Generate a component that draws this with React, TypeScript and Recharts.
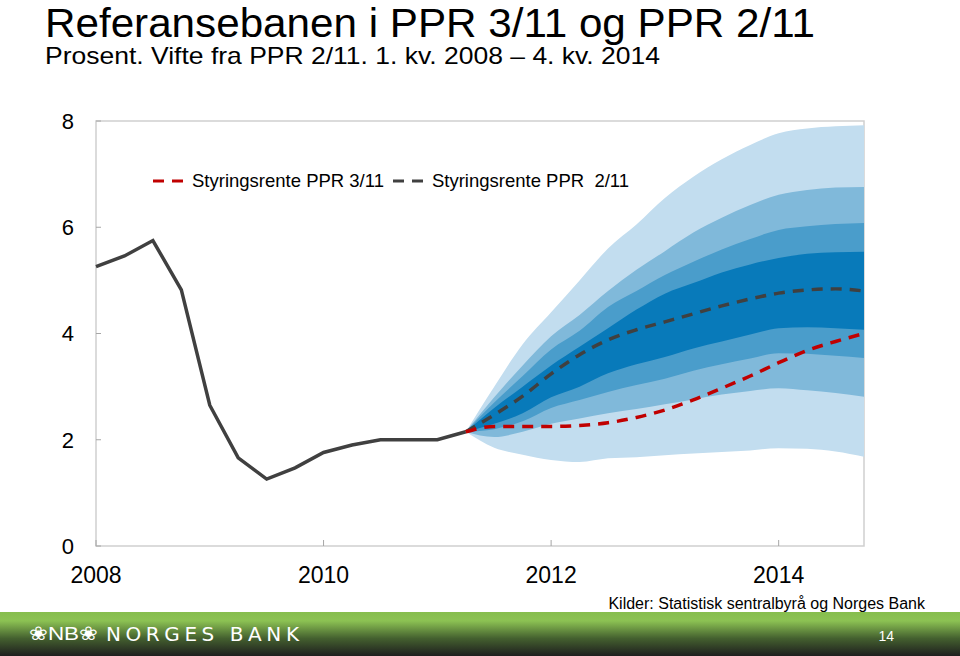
import React from 'react';
import { ComposedChart, Line, Area, XAxis, YAxis, ReferenceArea } from 'recharts';

// kvartal 1. kv. 2008 - 4. kv. 2014
const quarters = Array.from({ length: 28 }, (_, i) => i);
const yearLabels = ['2008', '2010', '2012', '2014'];
const yearTicks = [0, 8, 16, 24];
const yTicks = [0, 2, 4, 6, 8];

// historisk styringsrente (1. kv. 2008 - 2. kv. 2011)
const hist = [5.26, 5.46, 5.75, 4.82, 2.65, 1.66, 1.26, 1.47, 1.76, 1.9, 2.0, 2.0, 2.0, 2.15];

// prognoser fra 2. kv. 2011
const ppr3 = [2.15, 2.25, 2.25, 2.25, 2.27, 2.32, 2.42, 2.56, 2.75, 2.97, 3.2, 3.45, 3.68, 3.85, 4.0];
const ppr2 = [2.15, 2.47, 2.82, 3.24, 3.6, 3.88, 4.07, 4.22, 4.37, 4.52, 4.65, 4.76, 4.82, 4.84, 4.8];

// vifte (90, 70, 50, 30 prosent)
const p90Hi = [2.15, 3.0, 3.8, 4.4, 5.0, 5.6, 6.05, 6.55, 6.95, 7.28, 7.55, 7.77, 7.86, 7.9, 7.92];
const p70Hi = [2.15, 2.8, 3.4, 3.95, 4.35, 4.8, 5.2, 5.55, 5.9, 6.18, 6.42, 6.61, 6.7, 6.75, 6.76];
const p50Hi = [2.15, 2.7, 3.2, 3.7, 4.05, 4.5, 4.8, 5.1, 5.35, 5.58, 5.78, 5.95, 6.02, 6.06, 6.08];
const p30Hi = [2.15, 2.6, 3.0, 3.4, 3.75, 4.1, 4.45, 4.75, 4.95, 5.15, 5.3, 5.42, 5.5, 5.53, 5.54];
const p30Lo = [2.15, 2.3, 2.5, 2.8, 3.0, 3.25, 3.42, 3.56, 3.72, 3.85, 3.98, 4.1, 4.12, 4.1, 4.07];
const p50Lo = [2.15, 2.2, 2.35, 2.6, 2.75, 2.9, 3.03, 3.15, 3.3, 3.42, 3.53, 3.63, 3.62, 3.58, 3.54];
const p70Lo = [2.15, 2.05, 2.15, 2.3, 2.4, 2.5, 2.58, 2.67, 2.76, 2.85, 2.92, 2.97, 2.93, 2.88, 2.81];
const p90Lo = [2.15, 1.85, 1.72, 1.62, 1.58, 1.65, 1.67, 1.71, 1.74, 1.77, 1.8, 1.84, 1.83, 1.78, 1.68];

const START = 13;

const data = quarters.map((i) => {
  const k = i - START;
  const f = (arr: number[]) => (k >= 0 ? arr[k] : null);
  const band = (lo: number[], hi: number[]) => (k >= 0 ? [lo[k], hi[k]] : null);
  return {
    i,
    hist: i <= START ? hist[i] : null,
    ppr3: f(ppr3),
    ppr2: f(ppr2),
    b90: band(p90Lo, p90Hi),
    b70: band(p70Lo, p70Hi),
    b50: band(p50Lo, p50Hi),
    b30: band(p30Lo, p30Hi),
  };
});

const FONT = '"Liberation Sans", Arial, sans-serif';

const legendItems = [
  { label: 'Styringsrente PPR 3/11', color: '#c00000' },
  { label: 'Styringsrente PPR  2/11', color: '#404040' },
];

function ChartLegend() {
  return (
    <div
      style={{
        position: 'absolute', left: 152, top: 170, display: 'flex', alignItems: 'center',
        fontFamily: FONT, fontSize: 18.5, color: '#000', whiteSpace: 'pre', lineHeight: '22px',
      }}
    >
      {legendItems.map((it) => (
        <div key={it.label} style={{ display: 'flex', alignItems: 'center', marginRight: 8 }}>
          <svg width={32} height={8} style={{ marginRight: 8 }}>
            <line x1={1} y1={4} x2={31} y2={4} stroke={it.color} strokeWidth={3} strokeDasharray="11 8" />
          </svg>
          <span>{it.label}</span>
        </div>
      ))}
    </div>
  );
}

export default function App() {
  return (
    <div style={{ position: 'fixed', left: 0, top: 0, width: 960, height: 656, background: '#fff', overflow: 'hidden' }}>
      <ComposedChart
        width={960}
        height={656}
        data={data}
        margin={{ top: 121, right: 0, bottom: 70, left: 0 }}
        style={{ position: 'absolute', left: 0, top: 0 }}
      >
        <XAxis
          dataKey="i"
          type="number"
          domain={[0, 27]}
          ticks={yearTicks}
          tickFormatter={(v: number) => yearLabels[yearTicks.indexOf(v)]}
          height={40}
          axisLine={false}
          tickSize={-6}
          tickMargin={27}
          tickLine={{ stroke: '#a6a6a6' }}
          tick={{ fill: '#000', fontSize: 23, fontFamily: FONT }}
          interval={0}
        />
        <YAxis
          yAxisId="l"
          domain={[0, 8]}
          ticks={yTicks}
          width={96}
          axisLine={false}
          tickSize={-5}
          tickMargin={27}
          tickLine={{ stroke: '#a6a6a6' }}
          tick={{ fill: '#000', fontSize: 22, fontFamily: FONT }}
        />
        <YAxis
          yAxisId="r"
          orientation="right"
          domain={[0, 8]}
          ticks={yTicks}
          width={96}
          axisLine={false}
          tickSize={-5}
          tickMargin={25}
          tickLine={{ stroke: '#a6a6a6' }}
          tick={{ fill: '#000', fontSize: 22, fontFamily: FONT }}
        />
        <ReferenceArea yAxisId="l" x1={0} x2={27} y1={0} y2={8} fill="none" stroke="#d0d0d0" strokeWidth={1.5} />
        <Area yAxisId="l" type="monotone" dataKey="b90" stroke="none" fill="#c2ddef" fillOpacity={1} isAnimationActive={false} />
        <Area yAxisId="l" type="monotone" dataKey="b70" stroke="none" fill="#80b9da" fillOpacity={1} isAnimationActive={false} />
        <Area yAxisId="l" type="monotone" dataKey="b50" stroke="none" fill="#4a9dcb" fillOpacity={1} isAnimationActive={false} />
        <Area yAxisId="l" type="monotone" dataKey="b30" stroke="none" fill="#087aba" fillOpacity={1} isAnimationActive={false} />
        <Line yAxisId="l" type="linear" dataKey="hist" stroke="#404040" strokeWidth={3.5} dot={false} isAnimationActive={false} />
        <Line yAxisId="l" type="monotone" dataKey="ppr2" stroke="#404040" strokeWidth={3.5} strokeDasharray="11 8" dot={false} isAnimationActive={false} />
        <Line yAxisId="l" type="monotone" dataKey="ppr3" stroke="#c00000" strokeWidth={3.5} strokeDasharray="11 8" dot={false} isAnimationActive={false} />
      </ComposedChart>

      <ChartLegend />

      <svg width={960} height={656} style={{ position: 'absolute', left: 0, top: 0, pointerEvents: 'none' }}>
        <defs>
          <linearGradient id="nbband" x1="0" y1="0" x2="0" y2="1">
            <stop offset="0" stopColor="#86bd4d" />
            <stop offset="0.2" stopColor="#8cc253" />
            <stop offset="0.6" stopColor="#44602f" />
            <stop offset="1" stopColor="#1e1e1e" />
          </linearGradient>
        </defs>
        <text x={45} y={36.5} fontFamily={FONT} fontSize={40} fill="#000" textLength={770} lengthAdjust="spacingAndGlyphs">
          Referansebanen i PPR 3/11 og PPR 2/11
        </text>
        <text x={45} y={64} fontFamily={FONT} fontSize={24} fill="#000" textLength={615} lengthAdjust="spacingAndGlyphs">
          Prosent. Vifte fra PPR 2/11. 1. kv. 2008 – 4. kv. 2014
        </text>
        <text x={925} y={609} textAnchor="end" fontFamily={FONT} fontSize={16} fill="#000">
          Kilder: Statistisk sentralbyrå og Norges Bank
        </text>
        <rect x={0} y={612} width={960} height={44} fill="url(#nbband)" />
        <text x={29} y={640} fontFamily={FONT} fontSize={19} fill="#fff" textLength={69} lengthAdjust="spacingAndGlyphs">❀NB❀</text>
        <text x={106} y={641} fontFamily='"DejaVu Sans", sans-serif' fontSize={20} fill="#fff" textLength={193} lengthAdjust="spacing">
          NORGES BANK
        </text>
        <text x={894} y={641} textAnchor="end" fontFamily={FONT} fontSize={14} fill="#fff">14</text>
      </svg>
    </div>
  );
}
